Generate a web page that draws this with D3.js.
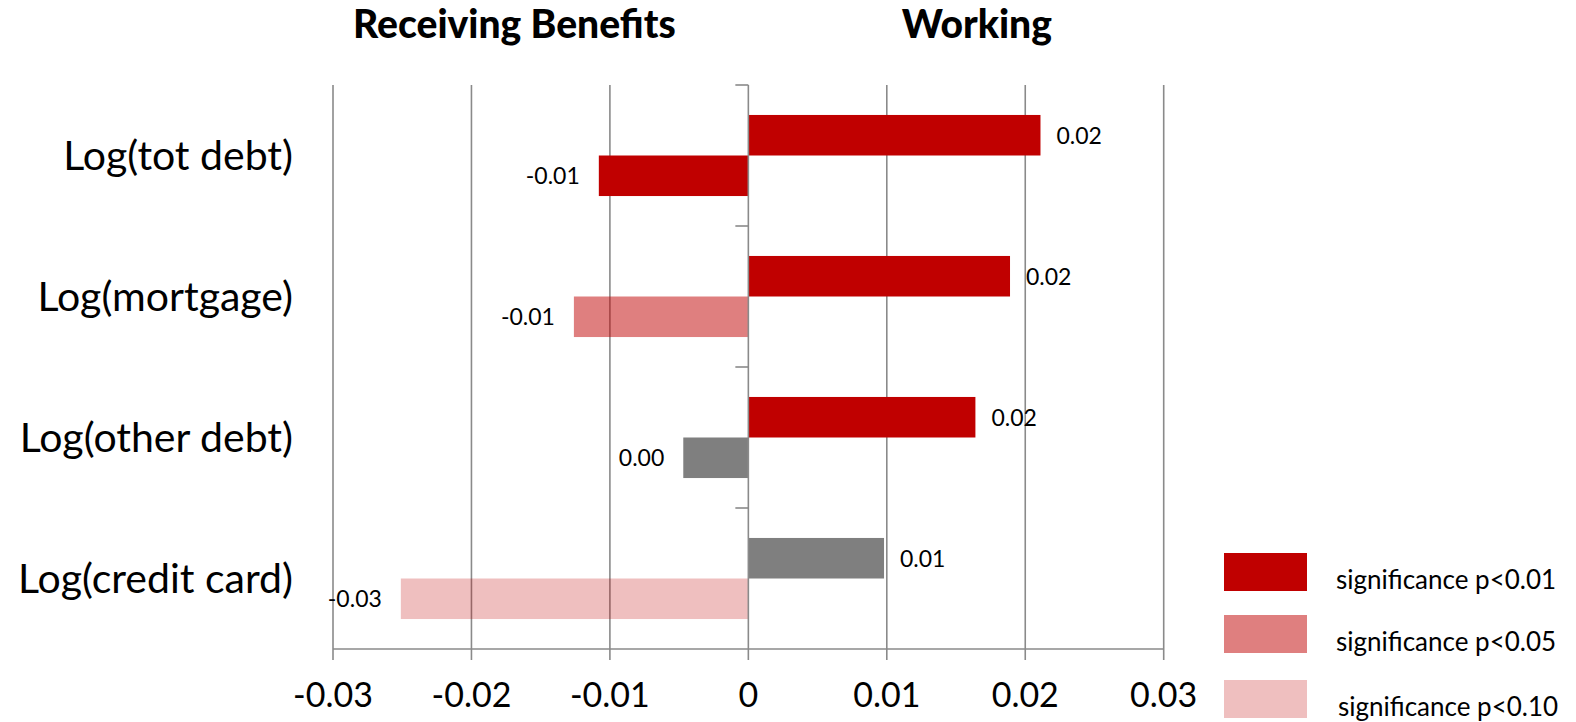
<!DOCTYPE html>
<html>
<head>
<meta charset="utf-8">
<script src="https://cdn.jsdelivr.net/npm/d3@7"></script>
<style>
  html, body { margin: 0; padding: 0; background: #fff; }
  svg { display: block; font-family: Lato, "Open Sans", sans-serif; }
</style>
</head>
<body>
<svg id="chart" width="1576" height="722"></svg>
<script>
// Outcome variables (rows, top to bottom)
const categories = ["Log(tot debt)", "Log(mortgage)", "Log(other debt)", "Log(credit card)"];

// Coefficients for each group
const workingValues  = [0.0211, 0.0189, 0.0164, 0.0098];
const benefitValues  = [-0.0108, -0.0126, -0.0047, -0.0251];

// Significance class of each coefficient
const workingSig = ["p01", "p01", "p01", "ns"];
const benefitSig = ["p01", "p05", "ns", "p10"];

// Axis ticks
const xTicks = [-0.03, -0.02, -0.01, 0, 0.01, 0.02, 0.03];
const xTickLabels = ["-0.03", "-0.02", "-0.01", "0", "0.01", "0.02", "0.03"];

// Legend entries
const legendKeys = ["p01", "p05", "p10"];
const legendLabels = ["significance p<0.01", "significance p<0.05", "significance p<0.10"];

// Group headings
const groupTitles = ["Receiving Benefits", "Working"];
const groupTitleAt = [-0.0169, 0.0165];

const sigFill = { p01: "#C00000", p05: "#C00000", p10: "#C00000", ns: "#7F7F7F" };
const sigOpacity = { p01: 1, p05: 0.5, p10: 0.25, ns: 1 };

const svg = d3.select("#chart");
const plot = { left: 333, right: 1163.7, top: 85, bottom: 649 };

const x = d3.scaleLinear().domain([-0.03, 0.03]).range([plot.left, plot.right]);
const y = d3.scaleBand().domain(categories).range([plot.top, plot.bottom]);
const barH = y.bandwidth() * 0.2875;
const pad = (y.bandwidth() - 2 * barH) / 2;

const fmt = d3.formatLocale({ decimal: ".", thousands: ",", grouping: [3], currency: ["", ""], minus: "-" }).format(".2f");
const gridColor = "#8A8A8A";

// Vertical gridlines with tick marks below the axis
svg.append("g")
  .selectAll("line")
  .data(xTicks.filter(d => d !== 0))
  .join("line")
  .attr("x1", d => x(d)).attr("x2", d => x(d))
  .attr("y1", plot.top).attr("y2", plot.bottom + 11)
  .attr("stroke", gridColor).attr("stroke-width", 1.6);

// Bars
const rows = categories.map((c, i) => ({
  cat: c,
  bars: [
    { v: workingValues[i], sig: workingSig[i], slot: 0 },
    { v: benefitValues[i], sig: benefitSig[i], slot: 1 }
  ]
}));
const barData = rows.flatMap(r => r.bars.map(b => Object.assign({ cat: r.cat }, b)));

svg.append("g")
  .selectAll("rect")
  .data(barData)
  .join("rect")
  .attr("x", d => Math.min(x(0), x(d.v)))
  .attr("width", d => Math.abs(x(d.v) - x(0)))
  .attr("y", d => y(d.cat) + pad + d.slot * barH)
  .attr("height", barH)
  .attr("fill", d => sigFill[d.sig])
  .attr("fill-opacity", d => sigOpacity[d.sig]);

// Bottom axis line
svg.append("line")
  .attr("x1", plot.left).attr("x2", plot.right)
  .attr("y1", plot.bottom).attr("y2", plot.bottom)
  .attr("stroke", gridColor).attr("stroke-width", 1.6);

// Zero line with category separators
svg.append("line")
  .attr("x1", x(0)).attr("x2", x(0))
  .attr("y1", plot.top).attr("y2", plot.bottom + 11)
  .attr("stroke", gridColor).attr("stroke-width", 1.6);
const separators = categories.map(c => y(c));
svg.append("g")
  .selectAll("line")
  .data(separators)
  .join("line")
  .attr("x1", x(0) - 13).attr("x2", x(0))
  .attr("y1", d => d).attr("y2", d => d)
  .attr("stroke", gridColor).attr("stroke-width", 1.6);

// Bar value labels
svg.append("g")
  .selectAll("text")
  .data(barData)
  .join("text")
  .attr("x", d => d.v >= 0 ? x(d.v) + 16 : x(d.v) - 19)
  .attr("y", d => y(d.cat) + pad + d.slot * barH + barH / 2 + 8.5)
  .attr("text-anchor", d => d.v >= 0 ? "start" : "end")
  .attr("font-size", 23)
  .attr("fill", "#000")
  .text(d => fmt(d.v));

// X tick labels
svg.append("g")
  .selectAll("text")
  .data(xTicks)
  .join("text")
  .attr("x", d => x(d))
  .attr("y", 707)
  .attr("text-anchor", "middle")
  .attr("font-size", 34)
  .text((d, i) => xTickLabels[i]);

// Category labels
svg.append("g")
  .selectAll("text")
  .data(categories)
  .join("text")
  .attr("x", 293)
  .attr("y", d => y(d) + y.bandwidth() / 2 + 14)
  .attr("text-anchor", "end")
  .attr("font-size", 41)
  .text(d => d);

// Group headings
svg.append("g")
  .selectAll("text")
  .data(groupTitles)
  .join("text")
  .attr("x", (d, i) => x(groupTitleAt[i]))
  .attr("y", 38)
  .attr("text-anchor", "middle")
  .attr("font-size", 39)
  .attr("font-weight", "900")
  .text(d => d);

// Legend
const legend = svg.append("g");
const legendTop = [553, 615, 680];
legend.selectAll("rect")
  .data(legendKeys)
  .join("rect")
  .attr("x", 1224).attr("width", 83)
  .attr("y", (d, i) => legendTop[i]).attr("height", 38)
  .attr("fill", d => sigFill[d])
  .attr("fill-opacity", d => sigOpacity[d]);
legend.selectAll("text")
  .data(legendLabels)
  .join("text")
  .attr("x", (d, i) => i === 2 ? 1338 : 1336)
  .attr("y", (d, i) => legendTop[i] + 36)
  .attr("font-size", 26)
  .text(d => d);
</script>
</body>
</html>
